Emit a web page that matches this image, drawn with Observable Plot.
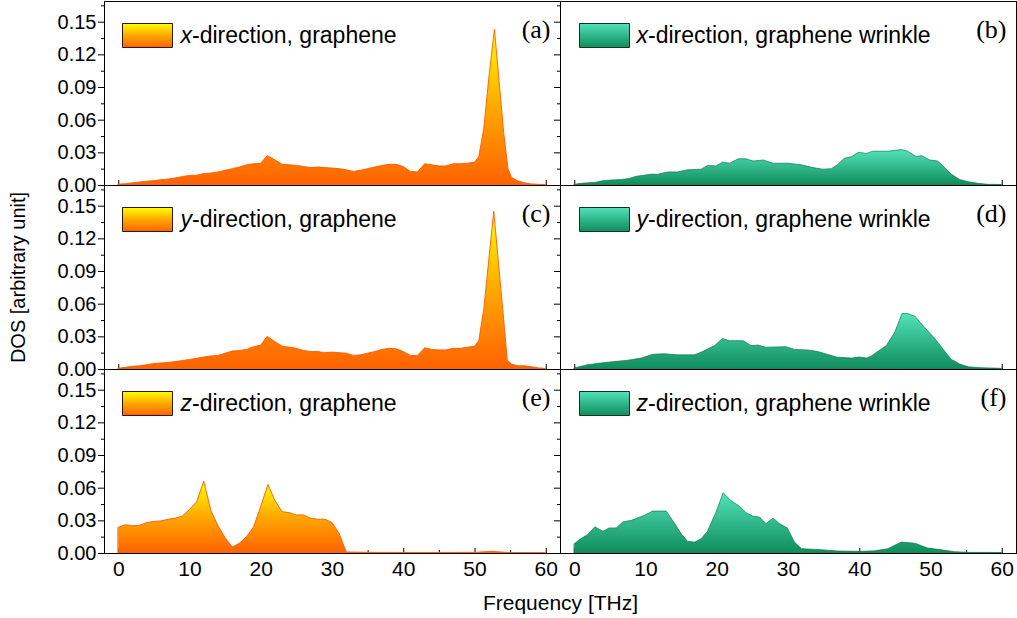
<!DOCTYPE html>
<html><head><meta charset="utf-8">
<script src="https://cdn.jsdelivr.net/npm/d3@7"></script>
<script src="https://cdn.jsdelivr.net/npm/@observablehq/plot@0.6"></script>
<style>
body{margin:0;background:#fff}
#chart svg{display:block}
</style>
</head><body><div id="chart"></div>
<script>
// ---- data ----
const columns = ["graphene", "graphene wrinkle"];
const directions = ["x", "y", "z"];
const panelLetters = ["(a)", "(b)", "(c)", "(d)", "(e)", "(f)"];
const yTicks = [0, 0.03, 0.06, 0.09, 0.12, 0.15];
const yMinorTicks = [0.015, 0.045, 0.075, 0.105, 0.135, 0.165];
const xTicks = [0, 10, 20, 30, 40, 50, 60];
const xMinorTicks = [5, 15, 25, 35, 45, 55];

// (a) x-direction, graphene
const freqA = [0,1,2,3,4,5,6,7,8,9,10,11,12,13,14,15,16,17,18,19,20,20.9,22,23,24,25,26,27,28,29,30,31,32,33,34,35,36,37,38,39,40,41,42,43,44,45,46,47,48,49,50,50.6,51.3,52,52.8,54.1,54.7,55.2,56,57,58,59,60];
const dosA  = [0.0008,0.0012,0.002,0.0028,0.0035,0.004,0.0048,0.0055,0.0065,0.0078,0.0088,0.009,0.0105,0.011,0.012,0.0135,0.015,0.0165,0.0185,0.0195,0.020,0.027,0.023,0.019,0.0185,0.018,0.017,0.016,0.0165,0.016,0.0155,0.015,0.014,0.0125,0.0135,0.015,0.0165,0.018,0.019,0.019,0.017,0.0125,0.012,0.0195,0.0185,0.0175,0.0175,0.0195,0.0195,0.020,0.021,0.026,0.052,0.098,0.143,0.048,0.015,0.007,0.004,0.002,0.001,0.0006,0.0005];

// (c) y-direction, graphene
const freqC = [0,1,2,3,4,5,6,7,8,9,10,11,12,13,14,15,16,17,18,19,20,20.9,22,23,24,25,26,27,28,29,30,31,32,33,34,35,36,37,38,39,40,41,42,43,44,45,46,47,48,49,50,50.6,51.3,52,52.7,54.1,54.6,55.2,56,57,58,59,60];
const dosC  = [0.0008,0.0015,0.0025,0.003,0.004,0.005,0.0055,0.006,0.0068,0.0078,0.0088,0.0098,0.011,0.012,0.0125,0.0145,0.0165,0.017,0.018,0.0205,0.022,0.030,0.025,0.021,0.020,0.019,0.017,0.016,0.016,0.015,0.0155,0.015,0.0145,0.0125,0.013,0.0145,0.016,0.018,0.019,0.0185,0.016,0.0125,0.0125,0.0195,0.018,0.0175,0.0175,0.019,0.019,0.020,0.021,0.026,0.055,0.100,0.145,0.045,0.008,0.0045,0.003,0.003,0.002,0.001,0.0005];

// (e) z-direction, graphene
const freqE = [0,1,2,3,4,5,6,7,8,9,10,11,12,13,14,15,16,17,18,19,20,21,22,23,24,25,26,27,28,29,30,31,32,35,40,45,50,52.5,54,55,60];
const dosE  = [0.0236,0.026,0.025,0.0255,0.028,0.029,0.0295,0.031,0.032,0.034,0.040,0.047,0.066,0.039,0.025,0.014,0.0055,0.009,0.015,0.024,0.043,0.063,0.048,0.038,0.037,0.035,0.035,0.032,0.031,0.031,0.028,0.018,0.001,0.0006,0.0005,0.0005,0.0006,0.0015,0.0008,0.0004,0.0003];

// (b) x-direction, graphene wrinkle
const freqB = [0,0.9,1.9,3.0,4.0,5.2,6.6,7.7,8.7,9.8,10.8,11.7,13.1,14.5,15.9,17.8,18.7,19.9,20.8,21.8,23.0,24.1,25.1,26.5,27.9,30.0,31.9,33.5,34.9,36.1,37.0,37.9,38.9,39.9,41.0,41.9,44.0,45.9,46.8,48.0,48.7,49.9,51.0,52.0,52.9,54.1,55.3,56.7,58.1,60];
const dosB  = [0.0006,0.0015,0.002,0.0025,0.004,0.0046,0.005,0.006,0.008,0.009,0.010,0.0098,0.012,0.012,0.014,0.0145,0.018,0.0175,0.021,0.020,0.024,0.024,0.022,0.023,0.020,0.020,0.0185,0.016,0.0145,0.015,0.019,0.0245,0.026,0.030,0.029,0.031,0.031,0.0325,0.031,0.026,0.027,0.023,0.022,0.016,0.010,0.005,0.003,0.0015,0.0006,0.0005];

// (d) y-direction, graphene wrinkle
const freqD = [0,1.9,3.7,5.6,7.5,9.4,11.0,12.6,14.5,16.9,18.0,19.7,20.8,21.8,23.7,24.8,25.8,26.9,29.7,30.9,32.8,34.2,36.8,38.9,40.0,41.0,41.7,43.8,45.0,46.0,46.8,47.8,49.2,50.6,51.8,52.9,54.1,55.3,57.1,60];
const dosD  = [0.001,0.004,0.0055,0.0068,0.008,0.010,0.0135,0.014,0.013,0.013,0.016,0.0215,0.028,0.026,0.026,0.0215,0.022,0.020,0.0205,0.018,0.0175,0.016,0.011,0.010,0.011,0.010,0.012,0.0215,0.034,0.051,0.051,0.0485,0.038,0.028,0.018,0.009,0.0046,0.002,0.0012,0.0006];

// (f) z-direction, graphene wrinkle
const freqF = [0,0.9,1.9,2.9,4.0,4.9,5.9,6.8,8.0,9.8,11.0,12.9,13.8,15.0,15.9,16.9,17.8,18.7,19.9,20.9,22.0,23.2,24.1,25.1,26.0,26.9,27.9,28.8,29.9,30.9,31.9,34.7,37.0,40.3,42.2,44.0,45.9,47.8,49.6,51.5,53.4,55.3,60];
const dosF  = [0.0086,0.013,0.017,0.024,0.020,0.023,0.023,0.0285,0.030,0.0345,0.0385,0.0385,0.030,0.0178,0.0107,0.010,0.013,0.020,0.0377,0.0554,0.048,0.043,0.037,0.0337,0.033,0.027,0.032,0.027,0.023,0.010,0.004,0.003,0.0018,0.0015,0.002,0.004,0.010,0.009,0.0046,0.003,0.0012,0.0006,0.0005];

// ---- build table ----
const panels = [
  {col: columns[0], dir: "x", letter: panelLetters[0], freq: freqA, dos: dosA},
  {col: columns[1], dir: "x", letter: panelLetters[1], freq: freqB, dos: dosB},
  {col: columns[0], dir: "y", letter: panelLetters[2], freq: freqC, dos: dosC},
  {col: columns[1], dir: "y", letter: panelLetters[3], freq: freqD, dos: dosD},
  {col: columns[0], dir: "z", letter: panelLetters[4], freq: freqE, dos: dosE},
  {col: columns[1], dir: "z", letter: panelLetters[5], freq: freqF, dos: dosF}
];
const table = panels.flatMap(p => p.freq.map((f, i) => ({col: p.col, dir: p.dir, freq: f, dos: p.dos[i]})));
const grapheneRows = table.filter(d => d.col === columns[0]);
const wrinkleRows = table.filter(d => d.col === columns[1]);
const graphenePanels = panels.filter(p => p.col === columns[0]);
const wrinklePanels = panels.filter(p => p.col === columns[1]);

const swatch = {draw(ctx) { ctx.rect(-25, -12, 50, 24); }};
const sans = "'Liberation Sans', Arial, Helvetica, sans-serif";
const serif = "'Liberation Serif', 'Times New Roman', serif";

const plot = Plot.plot({
  width: 1017,
  height: 618,
  marginLeft: 104,
  marginRight: 1,
  marginTop: 0,
  marginBottom: 64,
  style: {fontFamily: sans, fontSize: "22px", color: "#000", background: "#fff", overflow: "visible"},
  x: {domain: [-2, 62]},
  y: {domain: [0, 0.169]},
  fx: {domain: columns, padding: 0, axis: null},
  fy: {domain: directions, padding: 0, axis: null},
  marks: [
    // inward x ticks (bottom of every panel)
    Plot.axisX({ticks: xTicks, tickSize: 5, dy: -5, text: null, facetAnchor: null, label: null}),
    Plot.axisX({ticks: xMinorTicks, tickSize: 3, dy: -3, text: null, facetAnchor: null, label: null}),
    // areas
    Plot.areaY(grapheneRows, {x: "freq", y: "dos", fx: "col", fy: "dir", fill: "url(#gradOrange)", stroke: "#ff5a00", strokeWidth: 0.9}),
    Plot.areaY(wrinkleRows, {x: "freq", y: "dos", fx: "col", fy: "dir", fill: "url(#gradGreen)", stroke: "#13784f", strokeWidth: 0.7}),
    Plot.frame({stroke: "#000", strokeWidth: 1}),
    // y ticks on every panel
    Plot.axisY({ticks: yTicks, tickSize: 6, text: null, facetAnchor: null, label: null}),
    Plot.axisY({ticks: yMinorTicks, tickSize: 3, text: null, facetAnchor: null, label: null}),
    // y tick labels on left column
    Plot.axisY({ticks: yTicks, tickSize: 0, tickPadding: 8, tickFormat: d3.format(".2f"), fontSize: 20,
      facetAnchor: "left", label: "DOS [arbitrary unit]", labelAnchor: "center", labelOffset: 94, labelArrow: "none"}),
    // x tick labels on bottom row
    Plot.axisX({ticks: xTicks, tickSize: 0, tickPadding: 8, fontSize: 21,
      facetAnchor: "bottom", label: "Frequency [THz]", labelAnchor: "center", labelOffset: 56, labelArrow: "none"}),
    // legend swatches
    Plot.dot(graphenePanels, {fx: "col", fy: "dir", frameAnchor: "top-left", dx: 43, dy: 34, symbol: swatch, fill: "url(#gradOrange)", stroke: "#2a1a00", strokeWidth: 1}),
    Plot.dot(wrinklePanels, {fx: "col", fy: "dir", frameAnchor: "top-left", dx: 44, dy: 34, symbol: swatch, fill: "url(#gradGreen)", stroke: "#0b3325", strokeWidth: 1}),
    // legend text
    Plot.text(panels, {fx: "col", fy: "dir", text: "dir", frameAnchor: "top-left", dx: 76, dy: 34, textAnchor: "start", lineAnchor: "middle", fontSize: 23, fontStyle: "italic", fill: "#000"}),
    Plot.text(panels, {fx: "col", fy: "dir", text: d => "-direction, " + d.col, frameAnchor: "top-left", dx: 87.5, dy: 34, textAnchor: "start", lineAnchor: "middle", fontSize: 23, fill: "#000"}),
    // panel letters
    Plot.text(panels, {fx: "col", fy: "dir", text: "letter", frameAnchor: "top-right", dx: -10, dy: 28, textAnchor: "end", lineAnchor: "middle", fontSize: 26, fontFamily: serif, fill: "#000"})
  ]
});

plot.insertAdjacentHTML("afterbegin", `<defs>
  <linearGradient id="gradOrange" x1="0" y1="0" x2="0" y2="1">
    <stop offset="0" stop-color="#ffff00"/>
    <stop offset="0.5" stop-color="#ffa800"/>
    <stop offset="1" stop-color="#ff6200"/>
  </linearGradient>
  <linearGradient id="gradGreen" x1="0" y1="0" x2="0" y2="1">
    <stop offset="0" stop-color="#52e3b8"/>
    <stop offset="1" stop-color="#0f8c5c"/>
  </linearGradient>
</defs>`);
document.getElementById("chart").appendChild(plot);
</script>
</body></html>
